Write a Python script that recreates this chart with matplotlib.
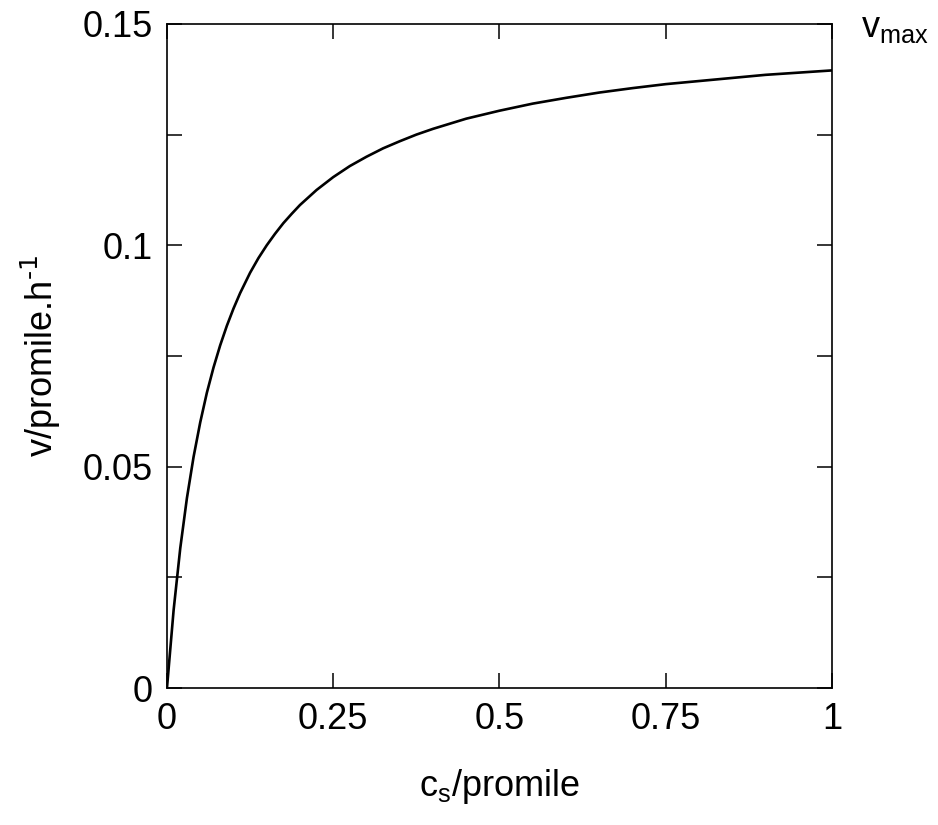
import matplotlib
matplotlib.use('Agg')
import matplotlib.pyplot as plt

# substrate concentration (promile) and rate (promile/h)
c_s = [0.0, 0.01, 0.02, 0.03, 0.04, 0.05, 0.06, 0.07, 0.08, 0.09, 0.10,
       0.11, 0.125, 0.1375, 0.15, 0.1625, 0.175, 0.1875, 0.20, 0.225, 0.25,
       0.275, 0.30, 0.325, 0.35, 0.375, 0.40, 0.45, 0.50, 0.55, 0.60, 0.65,
       0.70, 0.75, 0.80, 0.85, 0.90, 0.95, 1.0]
v = [0.0, 0.0176, 0.0316, 0.0429, 0.0522, 0.0600, 0.0667, 0.0724, 0.0774,
     0.0818, 0.0857, 0.0892, 0.0938, 0.0971, 0.1000, 0.1026, 0.1050, 0.1071,
     0.1091, 0.1125, 0.1154, 0.1179, 0.1200, 0.1219, 0.1235, 0.1250, 0.1263,
     0.1286, 0.1304, 0.1320, 0.1333, 0.1345, 0.1355, 0.1364, 0.1371, 0.1378,
     0.1385, 0.1390, 0.1395]

x_ticks = [0, 0.25, 0.5, 0.75, 1]
x_labels = ['0', '0.25', '0.5', '0.75', '1']
y_ticks = [0, 0.05, 0.1, 0.15]
y_labels = ['0', '0.05', '0.1', '0.15']
y_minor = [0.025, 0.075, 0.125]

plt.rcParams['font.family'] = ['Liberation Sans', 'DejaVu Sans']
plt.rcParams['mathtext.default'] = 'regular'

fig = plt.figure(figsize=(9.38, 8.25), dpi=100)
ax = fig.add_axes([0.178, 0.166, 0.709, 0.805])

ax.plot(c_s, v, color='black', lw=1.9)

ax.set_xlim(0, 1)
ax.set_ylim(0, 0.15)
ax.set_xticks(x_ticks)
ax.set_xticklabels(x_labels)
ax.set_yticks(y_ticks)
ax.set_yticklabels(y_labels)
ax.set_yticks(y_minor, minor=True)
ax.tick_params(which='both', direction='in', top=True, right=True,
               length=11, width=1.1, labelsize=26, pad=10)
for s in ax.spines.values():
    s.set_linewidth(1.2)

ax.set_xlabel('c$_s$/promile', fontsize=26, labelpad=22)
ax.set_ylabel('v/promile.h$^{\\text{-1}}$', fontsize=26, labelpad=14)

fig.text(0.918, 0.955, 'v$_{max}$', fontsize=26)

fig.savefig('out.png', dpi=100)
